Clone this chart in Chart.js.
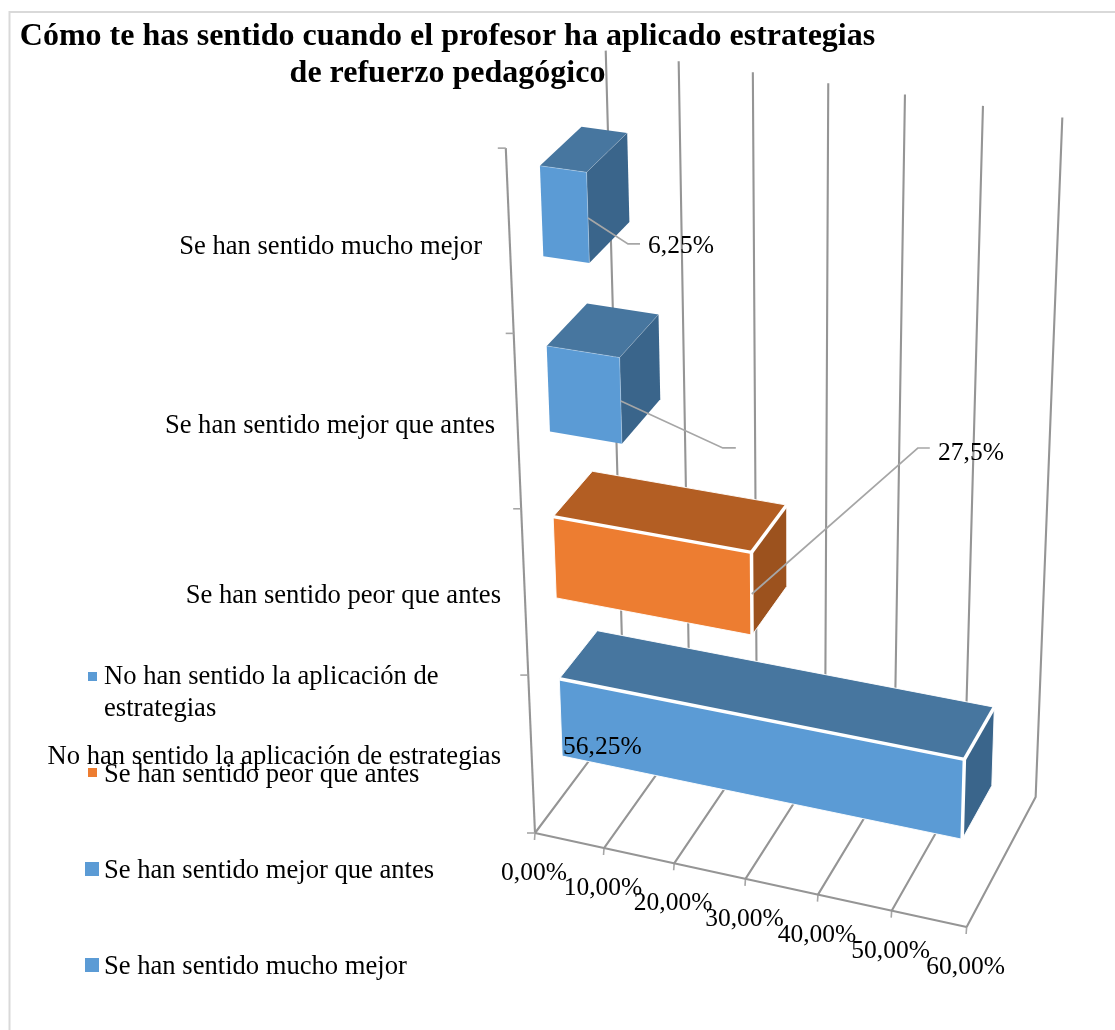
<!DOCTYPE html>
<html>
<head>
<meta charset="utf-8">
<style>html,body{margin:0;padding:0;background:#fff}canvas{display:block}</style>
<script src="https://cdn.jsdelivr.net/npm/chart.js@4/dist/chart.umd.min.js"></script>
</head>
<body>
<canvas id="c" width="1115" height="1030"></canvas>
<script>
const categories = ['Se han sentido mucho mejor','Se han sentido mejor que antes','Se han sentido peor que antes','No han sentido la aplicación de estrategias'];
const values = [6.25, 10, 27.5, 56.25];
const valueLabels = ['6,25%', '', '27,5%', '56,25%'];
const axisTicks = [0, 10, 20, 30, 40, 50, 60];
const axisTickLabels = ['0,00%','10,00%','20,00%','30,00%','40,00%','50,00%','60,00%'];
const titleLines = ['Cómo te has sentido cuando el profesor ha aplicado estrategias','de refuerzo pedagógico'];
const frontColors = ['#5B9BD5','#5B9BD5','#ED7D31','#5B9BD5'];
const topColors = ['#47769F','#47769F','#B35E23','#47769F'];
const sideColors = ['#3A658B','#3A658B','#9C521E','#3A658B'];
const edgeWidths = [0, 0, 3.5, 3.5];

/* perspective camera: origin and three vanishing points with weights */
const CAM = {o:[535,833], u:[-7970,-1019,-0.0483], v:[795,6929,-0.101], d:[2196,-1388,0.0566]};
function P(u,v,d){
  const D = 1 + CAM.u[2]*u + CAM.v[2]*v + CAM.d[2]*d;
  const f = i => (CAM.o[i] + CAM.u[2]*u*CAM.u[i] + CAM.v[2]*v*CAM.v[i] + CAM.d[2]*d*CAM.d[i]) / D;
  return [f(0), f(1)];
}
const BOX_FRONT = 0.31, BOX_BACK = 0.73;
const SERIF = '"Liberation Serif","Times New Roman",serif';
const GRID = '#959595', AXIS = '#A6A6A6', LEADER = '#A6A6A6';

function poly(ctx, pts, fill){
  ctx.beginPath();
  pts.forEach((p,i)=> i ? ctx.lineTo(p[0],p[1]) : ctx.moveTo(p[0],p[1]));
  ctx.closePath();
  ctx.fillStyle = fill;
  ctx.fill();
}
function line(ctx, pts, color, w){
  ctx.beginPath();
  pts.forEach((p,i)=> i ? ctx.lineTo(p[0],p[1]) : ctx.moveTo(p[0],p[1]));
  ctx.strokeStyle = color; ctx.lineWidth = w; ctx.lineJoin='miter'; ctx.lineCap='butt';
  ctx.stroke();
}

/* bars keep their library geometry; only the way they are painted is 3D */
Chart.BarElement.prototype.draw = function(ctx){
  const {x,y,base,height} = this.getProps(['x','y','base','height'], true);
  const chart = this.$context.chart, a = chart.chartArea, i = this.$context.dataIndex;
  const U = px => (px - a.left)/a.width, V = py => (a.bottom - py)/a.height;
  const u0=U(base), u1=U(x), v0=V(y+height/2), v1=V(y-height/2), d0=BOX_FRONT, d1=BOX_BACK;
  const fbl=P(u0,v0,d0), fbr=P(u1,v0,d0), ftl=P(u0,v1,d0), ftr=P(u1,v1,d0),
        bbr=P(u1,v0,d1), btl=P(u0,v1,d1), btr=P(u1,v1,d1);
  ctx.save();
  poly(ctx,[ftl,btl,btr,ftr],topColors[i]);
  poly(ctx,[ftr,btr,bbr,fbr],sideColors[i]);
  poly(ctx,[ftl,ftr,fbr,fbl],this.options.backgroundColor);
  const ew = edgeWidths[i];
  if(ew){
    line(ctx,[ftl,btl,btr,bbr,fbr,fbl,ftl],'rgba(255,255,255,0.9)',1);
    line(ctx,[ftl,ftr,fbr],'#fff',ew);
    line(ctx,[ftr,btr],'#fff',ew);
  } else {
    line(ctx,[ftl,ftr,fbr],'rgba(255,255,255,0.35)',0.8);
    line(ctx,[ftr,btr],'rgba(255,255,255,0.25)',0.8);
  }
  ctx.restore();
};

const scene = {
  id:'scene',
  beforeDatasetsDraw(chart){
    const ctx = chart.ctx, xs = chart.scales.x, a = chart.chartArea;
    ctx.save();
    /* frame */
    line(ctx,[[9.5,1030],[9.5,12],[1115,12]],'#D9D9D9',2);
    /* gridlines on floor and back wall */
    axisTicks.forEach(t=>{
      const u = (xs.getPixelForValue(t)-a.left)/a.width;
      const vTop = 1.009 - 0.013*u;
      line(ctx,[P(u,0,0),P(u,0,1),P(u,vTop,1)],GRID,2.1);
      const f = P(u,0,0);
      line(ctx,[f,[f[0]-0.5,f[1]+7]],AXIS,1.6);
    });
    /* front edge and vertical axis */
    line(ctx,[P(0,0,0),P(1,0,0)],GRID,2.1);
    line(ctx,[P(0,0,0),P(0,1,0)],GRID,2.1);
    for(let k=0;k<=categories.length;k++){
      const p = P(0,k/categories.length,0);
      line(ctx,[p,[p[0]-8,p[1]]],AXIS,1.6);
    }
    ctx.restore();
  },
  afterDatasetsDraw(chart){
    const ctx = chart.ctx, xs = chart.scales.x, a = chart.chartArea;
    ctx.save();
    ctx.fillStyle = '#000';
    ctx.textBaseline = 'alphabetic';
    /* title */
    ctx.font = 'bold 32px '+SERIF;
    ctx.textAlign = 'center';
    ctx.fillText(titleLines[0],447.5,45);
    ctx.fillText(titleLines[1],447.5,82);
    /* value axis labels */
    ctx.font = '25.5px '+SERIF;
    axisTicks.forEach((t,i)=>{
      const f = P((xs.getPixelForValue(t)-a.left)/a.width,0,0);
      ctx.fillText(axisTickLabels[i],f[0]-1,f[1]+47);
    });
    /* leader lines */
    const leaders = [[40,26,12],[102,47,13],[166,-146,12]];
    leaders.forEach((l,i)=>{
      const el = chart.getDatasetMeta(0).data[i];
      const s = P((el.x-a.left)/a.width,(a.bottom-el.y)/a.height,BOX_FRONT);
      line(ctx,[s,[s[0]+l[0],s[1]+l[1]],[s[0]+l[0]+l[2],s[1]+l[1]]],LEADER,1.7);
    });
    /* value labels */
    ctx.textAlign = 'left';
    ctx.fillStyle = '#000';
    const lab = [[648,253],null,[938,460],[563,754]];
    valueLabels.forEach((t,i)=>{ if(t) ctx.fillText(t,lab[i][0],lab[i][1]); });
    /* category labels */
    ctx.font = '26.6px '+SERIF;
    ctx.textAlign = 'right';
    const catRight = [482,495,501,501], catBase = [254,433,603,764];
    categories.forEach((c,i)=>ctx.fillText(c,catRight[i],catBase[i]));
    /* legend */
    ctx.textAlign = 'left';
    const lg = [
      {i:3,lines:['No han sentido la aplicación de','estrategias'],b:[684,716],sq:[88,672,9]},
      {i:2,lines:['Se han sentido peor que antes'],b:[782],sq:[88,768,9]},
      {i:1,lines:['Se han sentido mejor que antes'],b:[878],sq:[85,862,14]},
      {i:0,lines:['Se han sentido mucho mejor'],b:[974],sq:[85,958,14]}
    ];
    lg.forEach(e=>{
      ctx.fillStyle = frontColors[e.i];
      ctx.fillRect(e.sq[0],e.sq[1],e.sq[2],e.sq[2]);
      ctx.fillStyle = '#000';
      e.lines.forEach((t,k)=>ctx.fillText(t,104,e.b[k]));
    });
    ctx.restore();
  }
};

new Chart(document.getElementById('c'),{
  type:'bar',
  data:{labels:categories,datasets:[{data:values,backgroundColor:frontColors,barPercentage:0.495,categoryPercentage:1,clip:false}]},
  options:{
    indexAxis:'y',
    responsive:false,
    devicePixelRatio:1,
    animation:false,
    events:[],
    layout:{padding:{left:535,right:148,top:148,bottom:197}},
    scales:{
      x:{type:'linear',min:0,max:60,display:false,ticks:{stepSize:10}},
      y:{type:'category',display:false}
    },
    plugins:{legend:{display:false},title:{display:false},tooltip:{enabled:false}}
  },
  plugins:[scene]
});
</script>
</body>
</html>
